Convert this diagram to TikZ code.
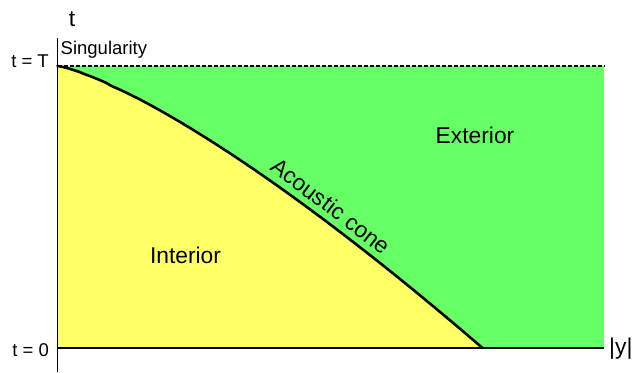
\documentclass[tikz,border=0pt]{standalone}
\usepackage{fontspec}
\setmainfont{Liberation Sans}
\definecolor{extgreen}{HTML}{66FF66}
\definecolor{intyellow}{HTML}{FFFF66}
\begin{document}
\begin{tikzpicture}[x=1pt,y=1pt,
  lbl/.style={inner sep=0pt,font=\fontsize{22.8}{24}\selectfont},
  smalllbl/.style={inner sep=0pt,font=\fontsize{18.5}{20}\selectfont},
  axisline/.style={line width=1pt,black},
  conecurve/.style={line width=2.6pt,black},
  sing/.style={line width=1.3pt,black,dash pattern=on 4pt off 2pt}]
\useasboundingbox (0,0) rectangle (636,372);
\coordinate (O) at (57.5,24);
\coordinate (S) at (57.5,306);
\coordinate (E) at (483,24);
\coordinate (R) at (604,24);
\coordinate (RT) at (604,306);
\coordinate (Vtop) at (57.5,334);
\coordinate (Vbot) at (57.5,0);
% exterior region
\fill[extgreen] (O) rectangle (RT);
% interior region
\fill[intyellow] (O) -- (S) -- plot[domain=0:425,samples=80] ({57.5+\x},{306-282*(\x/425)^1.3}) -- cycle;
% singularity line
\draw[sing] (S) -- (RT);
% axes
\draw[axisline] (Vbot) -- (Vtop);
\draw[line width=1.6pt] (O) -- (E);
\draw[line width=2.6pt] (E) -- (R);
% acoustic cone
\draw[conecurve,line cap=round] plot[domain=0:425,samples=80] ({57.5+\x},{306-282*(\x/425)^1.3});
% labels
\node[lbl] (tlab) at (72,353) {t};
\node[lbl,anchor=west] (ylab) at (609,23) {|y|};
\node[smalllbl,anchor=west] (singlab) at (60.5,322) {Singularity};
\node[smalllbl,anchor=east] (tT) at (49,311) {t = T};
\node[smalllbl,anchor=east] (t0) at (49,22) {t = 0};
\node[lbl] (extlab) at (475,237) {Exterior};
\node[lbl] (intlab) at (185.5,117) {Interior};
\node[lbl,rotate=-37.5] (conelab) at (331,166) {Acoustic cone};
\end{tikzpicture}
\end{document}
